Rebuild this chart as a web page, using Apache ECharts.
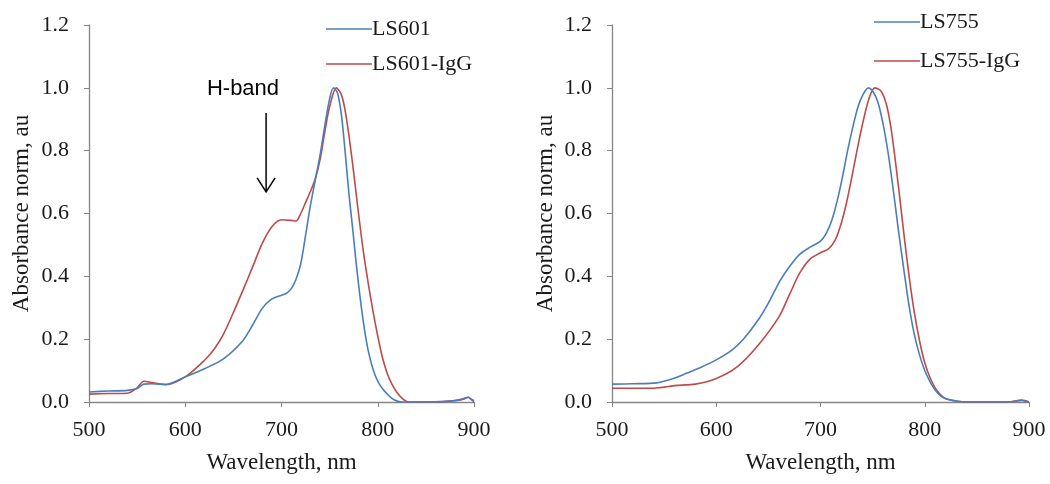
<!DOCTYPE html>
<html>
<head>
<meta charset="utf-8">
<script src="https://cdn.jsdelivr.net/npm/echarts@6/dist/echarts.min.js"></script>
<style>
html,body{margin:0;padding:0;background:#fff;}
#c{width:1050px;height:484px;}
</style>
</head>
<body>
<div id="c"></div>
<script>
// Axis ticks
const xTicks = [500, 600, 700, 800, 900];
const yTicks = [0, 0.2, 0.4, 0.6, 0.8, 1.0, 1.2];

// Left panel: LS601  [wavelength nm, normalised absorbance]
const ls601 = [
  [500,0.032],[520,0.035],[540,0.037],[550,0.043],[557,0.057],[565,0.058],[580,0.056],[600,0.08],
  [620,0.106],[640,0.138],[660,0.196],[670,0.245],[680,0.298],[690,0.328],[700,0.34],[705,0.346],
  [710,0.36],[715,0.39],[720,0.44],[725,0.53],[730,0.625],[735,0.705],[740,0.785],[745,0.88],
  [750,0.965],[754,1.0],[758,0.985],[762,0.92],[766,0.80],[770,0.665],[774,0.55],[778,0.43],
  [782,0.325],[786,0.235],[790,0.165],[795,0.105],[800,0.066],[805,0.042],[810,0.025],[815,0.011],
  [821,0.002],[826,0.0],[850,0.0],[870,0.002],[885,0.006],[890,0.012],[894,0.015],[897,0.01],
  [900,0.004]
];
const ls601IgG = [
  [500,0.025],[520,0.027],[540,0.028],[550,0.045],[557,0.066],[565,0.062],[580,0.055],[600,0.08],
  [620,0.133],[630,0.168],[640,0.218],[650,0.285],[660,0.356],[670,0.43],[680,0.505],[690,0.558],
  [700,0.58],[710,0.578],[715,0.576],[720,0.60],[725,0.635],[730,0.67],[735,0.71],[740,0.77],
  [745,0.86],[750,0.94],[757,1.0],[762,0.98],[766,0.93],[770,0.85],[775,0.73],[780,0.60],
  [785,0.48],[790,0.38],[795,0.29],[800,0.21],[805,0.14],[810,0.09],[815,0.055],[820,0.03],
  [826,0.01],[832,0.0],[860,0.0],[880,0.005],[890,0.01],[894,0.015],[897,0.008],[900,0.0]
];

// Right panel: LS755
const ls755 = [
  [500,0.057],[520,0.058],[543,0.061],[560,0.076],[572,0.092],[585,0.11],[600,0.134],[615,0.165],
  [626,0.20],[640,0.26],[650,0.315],[661,0.385],[670,0.43],[680,0.47],[690,0.493],[700,0.512],
  [706,0.54],[711,0.58],[716,0.64],[721,0.715],[726,0.80],[731,0.875],[736,0.94],[741,0.98],
  [746,1.0],[750,0.99],[755,0.955],[760,0.885],[765,0.79],[770,0.67],[775,0.54],[780,0.42],
  [785,0.305],[790,0.215],[795,0.15],[800,0.10],[805,0.065],[810,0.038],[815,0.02],[820,0.01],
  [830,0.003],[840,0.0],[880,0.0],[893,0.005],[900,0.0]
];
const ls755IgG = [
  [500,0.044],[520,0.044],[540,0.044],[560,0.052],[580,0.057],[600,0.075],[620,0.112],[640,0.18],
  [660,0.27],[670,0.34],[680,0.41],[690,0.455],[700,0.475],[708,0.488],[714,0.515],[720,0.57],
  [725,0.635],[730,0.715],[735,0.80],[740,0.88],[746,0.96],[752,1.0],[758,0.99],[763,0.95],
  [767,0.885],[770,0.815],[775,0.68],[780,0.535],[785,0.40],[790,0.285],[795,0.195],[800,0.125],
  [805,0.078],[810,0.045],[815,0.024],[820,0.011],[830,0.003],[840,0.0],[880,0.0],[893,0.006],
  [900,0.0]
];

const BLUE = '#4a7ebb';
const RED = '#be4b48';
const AX = '#868686';
const SERIF = '"Liberation Serif", "Times New Roman", serif';

function xAxisCfg(gi){
  return {
    type:'value', gridIndex:gi, min:xTicks[0], max:xTicks[xTicks.length-1], interval:xTicks[1]-xTicks[0],
    name:'Wavelength, nm', nameLocation:'middle', nameGap:49,
    nameTextStyle:{fontFamily:SERIF, fontSize:23, color:'#1a1a1a'},
    axisLine:{show:true, lineStyle:{color:AX, width:1.3}},
    axisTick:{show:true, inside:false, length:5, lineStyle:{color:AX}},
    axisLabel:{fontFamily:SERIF, fontSize:22, color:'#1a1a1a', margin:17},
    splitLine:{show:false}
  };
}
function yAxisCfg(gi, gap){
  return {
    type:'value', gridIndex:gi, min:yTicks[0], max:yTicks[yTicks.length-1], interval:yTicks[1]-yTicks[0],
    name:'Absorbance norm, au', nameLocation:'middle', nameGap:gap,
    nameTextStyle:{fontFamily:SERIF, fontSize:23, color:'#1a1a1a'},
    axisLine:{show:true, lineStyle:{color:AX, width:1.3}},
    axisTick:{show:true, inside:false, length:5, lineStyle:{color:AX}},
    axisLabel:{fontFamily:SERIF, fontSize:22, color:'#1a1a1a', margin:20,
      formatter:v=>v.toFixed(1)},
    splitLine:{show:false}
  };
}
function lineSeries(name, data, color, gi){
  return {
    name, type:'line', xAxisIndex:gi, yAxisIndex:gi, data,
    smooth:0.3, symbol:'none', lineStyle:{color, width:1.6}, itemStyle:{color},
    z:color===RED?2:3
  };
}
function legendCfg(names, left, top, gap){
  return {
    data:names, orient:'vertical', left, top,
    itemWidth:46, itemHeight:12, itemGap:gap,
    icon:'path://M0,0 L1,0 L1,0.028 L0,0.028 Z',
    textStyle:{fontFamily:SERIF, fontSize:22, color:'#1a1a1a', padding:[0,0,0,-5]}
  };
}

const chart = echarts.init(document.getElementById('c'));
const option = {
  animation:false,
  backgroundColor:'#ffffff',
  grid:[
    {left:89, right:576, top:25, bottom:82},
    {left:612, right:21, top:25, bottom:82}
  ],
  xAxis:[xAxisCfg(0), xAxisCfg(1)],
  yAxis:[yAxisCfg(0, 56), yAxisCfg(1, 55)],
  legend:[
    legendCfg(['LS601','LS601-IgG'], 321, 13, 13),
    legendCfg(['LS755','LS755-IgG'], 869, 6, 17)
  ],
  series:[
    lineSeries('LS601', ls601, BLUE, 0),
    lineSeries('LS601-IgG', ls601IgG, RED, 0),
    lineSeries('LS755', ls755, BLUE, 1),
    lineSeries('LS755-IgG', ls755IgG, RED, 1)
  ]
};
chart.setOption(option);

// H-band annotation placed via data coordinates
const tPos = chart.convertToPixel({gridIndex:0}, [660, 0.997]);
const aTop = chart.convertToPixel({gridIndex:0}, [684, 0.92]);
const aBot = chart.convertToPixel({gridIndex:0}, [684, 0.669]);
chart.setOption({
  graphic:[
    {type:'text', x:tPos[0], y:tPos[1], style:{text:'H-band', fill:'#000',
      font:'22px "Liberation Sans", "Open Sans", sans-serif', textAlign:'center', textVerticalAlign:'middle'}},
    {type:'line', shape:{x1:aTop[0], y1:aTop[1], x2:aBot[0], y2:aBot[1]}, style:{stroke:'#000', lineWidth:1.5}},
    {type:'polyline', shape:{points:[[aBot[0]-9, aBot[1]-14],[aBot[0], aBot[1]],[aBot[0]+9, aBot[1]-14]]},
      style:{stroke:'#000', lineWidth:1.5, fill:null}}
  ]
});
</script>
</body>
</html>
